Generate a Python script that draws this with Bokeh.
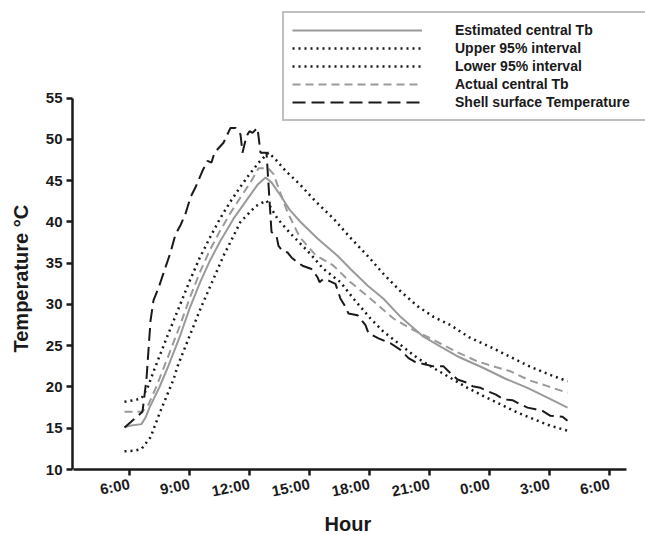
from bokeh.plotting import figure
from bokeh.models import Legend, LegendItem, Range1d, FixedTicker, Title
from bokeh.embed import file_html
from bokeh.resources import INLINE

# ---------------- data (hours since midnight of day 1; 24 = 0:00 next day) ----------------
est_h = [5.75, 6.0, 6.6, 6.8, 7.0, 7.5, 7.9, 8.5, 9.0, 9.55, 10.0, 10.5, 11.2, 11.9, 12.4, 12.8,
         13.1, 13.55, 14.0, 14.55, 15.4, 16.4, 17.05, 17.9, 18.7, 19.55, 20.7, 21.55, 22.5, 23.7,
         24.8, 25.9, 27.0, 27.9]
est_t = [15.1, 15.3, 15.5, 16.3, 17.5, 20.0, 22.3, 26.0, 29.5, 32.8, 35.2, 37.5, 40.4, 42.8, 44.5, 45.4,
         44.8, 43.2, 41.5, 40.0, 38.0, 35.9, 34.3, 32.3, 30.7, 28.5, 26.1, 24.9, 23.6, 22.3,
         21.0, 19.9, 18.6, 17.5]

up_h = [5.75, 6.0, 6.6, 6.9, 7.3, 7.9, 8.5, 9.0, 9.5, 10.0, 10.5, 11.0, 11.5, 12.0, 12.5, 12.95,
        13.3, 13.8, 14.5, 15.3, 16.2, 17.0, 17.9, 18.7, 19.55, 20.4, 21.2, 22.05, 23.0, 24.0,
        25.0, 26.0, 27.0, 27.9]
up_t = [18.2, 18.3, 18.6, 19.9, 22.5, 26.2, 29.8, 32.8, 35.6, 38.0, 40.3, 42.3, 44.1, 45.8, 47.3, 48.4,
        47.6, 46.2, 44.6, 42.5, 40.4, 38.2, 35.9, 33.7, 31.6, 29.8, 28.5, 27.5, 26.0, 24.9,
        23.7, 22.5, 21.5, 20.7]

lo_h = [5.75, 6.3, 6.6, 7.05, 7.55, 8.2, 8.4, 9.55, 10.7, 11.55, 12.3, 12.85, 13.4, 14.05, 14.9,
        15.7, 16.55, 17.2, 18.05, 18.7, 19.55, 20.4, 21.2, 22.05, 22.9, 23.7, 24.55, 25.4, 26.2,
        27.05, 27.9]
lo_t = [12.2, 12.3, 12.5, 13.9, 17.1, 20.9, 22.5, 29.5, 35.9, 40.0, 41.9, 42.6, 40.4, 38.6, 36.5,
        34.3, 32.7, 30.7, 28.3, 26.7, 25.1, 23.5, 22.3, 21.1, 19.9, 18.9, 17.9, 16.9, 16.1,
        15.3, 14.7]

act_h = [5.75, 6.6, 6.9, 7.3, 7.9, 8.5, 9.0, 9.5, 10.0, 10.5, 11.0, 11.5, 12.0, 12.45, 12.95, 13.2,
         13.5, 13.9, 14.5, 15.3, 16.2, 17.0, 18.0, 19.2, 20.2, 21.2, 22.4, 23.4, 24.2, 25.05,
         26.0, 26.9, 27.9]
act_t = [17.0, 17.0, 17.6, 19.8, 23.5, 27.3, 30.7, 33.8, 36.5, 38.8, 40.9, 42.8, 44.6, 46.5, 46.5, 45.8,
         43.8, 41.2, 38.2, 36.0, 34.7, 32.8, 30.8, 28.3, 26.9, 25.7, 24.2, 23.1, 22.5, 21.9,
         20.8, 20.1, 19.3]

shell_h = [5.75, 6.65, 6.85, 7.05, 7.2, 7.45, 7.7, 8.05, 8.3, 8.55, 8.8, 9.05, 9.3, 9.65, 9.9, 10.1,
           10.25, 10.7, 11.05, 11.3, 11.55, 11.65, 11.85, 12.0, 12.15, 12.4, 12.55, 12.85, 13.1,
           13.35, 13.45, 13.65, 13.9, 14.1, 14.4, 14.65, 15.1, 15.4, 15.5, 15.7, 15.95, 16.3, 16.55,
           16.8, 16.95, 17.4, 17.8, 17.95, 18.45, 19.05, 19.55, 19.95, 20.3, 21.2, 21.7, 21.95, 22.4,
           22.9, 23.15, 23.55, 23.9, 24.3, 24.7, 25.15, 25.45, 25.9, 26.3, 26.65, 27.05, 27.65, 27.9]
shell_t = [15.1, 17.0, 21.0, 28.0, 30.5, 32.0, 33.8, 36.3, 38.5, 39.6, 41.0, 43.0, 44.2, 46.2, 47.4, 47.2,
           48.4, 49.6, 51.4, 51.4, 50.6, 48.4, 50.4, 51.0, 50.8, 51.4, 48.4, 48.4, 38.8,
           38.3, 37.1, 36.5, 36.3, 35.7, 35.1, 34.7, 34.3, 33.3, 32.7, 33.1, 32.9, 32.5, 30.7,
           29.7, 28.9, 28.7, 27.5, 26.5, 25.9, 25.3, 24.5, 23.5, 23.0, 22.5, 22.5, 21.9, 20.9,
           20.5, 20.1, 19.9, 19.5, 19.1, 18.5, 18.4, 18.0, 17.5, 17.3, 17.1, 16.5, 16.4, 15.9]

x_ticks = [6, 9, 12, 15, 18, 21, 24, 27, 30]
x_tick_labels = ["6:00", "9:00", "12:00", "15:00", "18:00", "21:00", "0:00", "3:00", "6:00"]
y_ticks = [10, 15, 20, 25, 30, 35, 40, 45, 50, 55]

series_labels = ["Estimated central Tb", "Upper 95% interval", "Lower 95% interval",
                 "Actual central Tb", "Shell surface Temperature"]
x_title = "Hour"
y_title = "Temperature \u00b0C"

# ---------------- figure ----------------
FONT = "Liberation Sans"
GRAY = "#9a9a9a"
BLACK = "#1a1a1a"

p = figure(width=645, height=534, output_backend="svg", toolbar_location=None,
           x_range=Range1d(3.15, 31.8), y_range=Range1d(10, 66.84),
           min_border_left=72, min_border_right=0, min_border_top=0, min_border_bottom=62)
p.outline_line_color = None
p.grid.visible = False
p.background_fill_color = "white"

r_est = p.line(est_h, est_t, line_color=GRAY, line_width=2)
r_up = p.line(up_h, up_t, line_color=BLACK, line_width=2.5, line_dash="2 4")
r_lo = p.line(lo_h, lo_t, line_color=BLACK, line_width=2.5, line_dash="2 4")
r_act = p.line(act_h, act_t, line_color=GRAY, line_width=2, line_dash="8 5")
r_shell = p.line(shell_h, shell_t, line_color=BLACK, line_width=2, line_dash="13 6")

# axes
xa = p.xaxis[0]
xa.bounds = (3.2, 30.85)
xa.ticker = FixedTicker(ticks=x_ticks)
xa.major_label_overrides = {t: l for t, l in zip(x_ticks, x_tick_labels)}
xa.major_label_orientation = 0.2
ya = p.yaxis[0]
ya.bounds = (10, 55)
ya.ticker = FixedTicker(ticks=y_ticks)
for ax in (xa, ya):
    ax.axis_line_width = 2.5
    ax.axis_line_color = BLACK
    ax.major_tick_line_width = 2.5
    ax.major_tick_line_color = BLACK
    ax.major_tick_in = 0
    ax.major_tick_out = 6
    ax.minor_tick_line_color = None
    ax.major_label_text_font = FONT
    ax.major_label_text_font_style = "bold"
    ax.major_label_text_font_size = "15px"
    ax.major_label_text_color = BLACK
ya.major_label_standoff = 4
xa.major_label_standoff = 8

# axis titles (side-panel titles, shifted to match the reference)
p.add_layout(Title(text=y_title, align="left", offset=117, standoff=17, vertical_align="top",
                   text_font=FONT, text_font_style="bold", text_font_size="20px",
                   text_color=BLACK), "left")
p.add_layout(Title(text=x_title, align="left", offset=252, standoff=0,
                   text_font=FONT, text_font_style="bold", text_font_size="20px",
                   text_color=BLACK), "below")

# legend
legend = Legend(items=[LegendItem(label=series_labels[0], renderers=[r_est]),
                       LegendItem(label=series_labels[1], renderers=[r_up]),
                       LegendItem(label=series_labels[2], renderers=[r_lo]),
                       LegendItem(label=series_labels[3], renderers=[r_act]),
                       LegendItem(label=series_labels[4], renderers=[r_shell])],
                location=(210, 348))
legend.border_line_color = "#808080"
legend.border_line_width = 2
legend.background_fill_alpha = 0
legend.label_text_font = FONT
legend.label_text_font_style = "bold"
legend.label_text_font_size = "14px"
legend.label_text_color = BLACK
legend.glyph_width = 130
legend.glyph_height = 18
legend.label_height = 18
legend.label_width = 200
legend.spacing = 0
legend.padding = 8
legend.margin = 0
legend.label_standoff = 33
p.add_layout(legend, "center")

open("out.html", "w").write(file_html(p, INLINE))
